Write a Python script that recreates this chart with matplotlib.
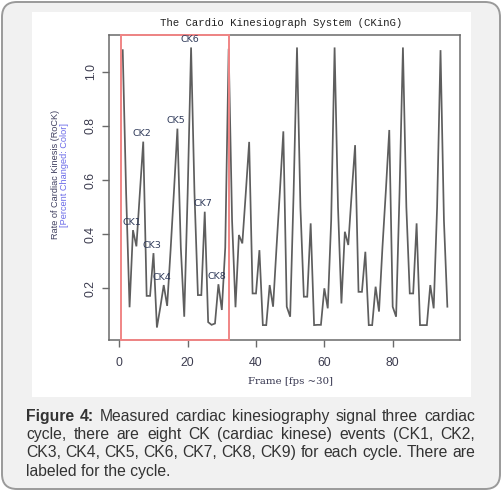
import numpy as np
import matplotlib
matplotlib.use("Agg")
import matplotlib.pyplot as plt
from matplotlib.patches import FancyBboxPatch, Rectangle

# ---------------- data ----------------
frames = list(range(1, 97))
rock = [
    # cycle 1
    1.08, 0.55, 0.13, 0.415, 0.355, 0.55, 0.742, 0.172, 0.172, 0.33,
    0.055, 0.13, 0.212, 0.135, 0.34, 0.56, 0.79, 0.35, 0.095, 0.55,
    1.09, 0.55, 0.175, 0.175, 0.483, 0.075, 0.065, 0.07, 0.215, 0.12,
    0.35,
    # cycle 2
    1.085, 0.45, 0.13, 0.397, 0.366, 0.55, 0.741, 0.181, 0.181, 0.341,
    0.064, 0.064, 0.212, 0.132, 0.35, 0.56, 0.78, 0.132, 0.095, 0.55,
    1.09, 0.5, 0.169, 0.169, 0.44, 0.064, 0.065, 0.065, 0.2, 0.126,
    0.45,
    # cycle 3
    1.09, 0.5, 0.144, 0.409, 0.36, 0.55, 0.729, 0.187, 0.187, 0.335,
    0.064, 0.064, 0.206, 0.114, 0.35, 0.56, 0.785, 0.132, 0.095, 0.55,
    1.09, 0.5, 0.181, 0.181, 0.44, 0.064, 0.064, 0.064, 0.212, 0.126,
    0.5, 1.08, 0.45, 0.132,
]
ck_names = ["CK1", "CK2", "CK3", "CK4", "CK5", "CK6", "CK7", "CK8"]
ck_frames = [4, 7, 10, 13, 17, 21, 25, 29]
highlight_cycle = (1, 32)
x_ticks = [0, 20, 40, 60, 80]
y_ticks = [0.2, 0.4, 0.6, 0.8, 1.0]

title = "The Cardio Kinesiograph System (CKinG)"
ylabel1 = "Rate of Cardiac Kinesis (RoCK)"
ylabel2 = "[Percent Changed: Color]"
xlabel = "Frame [fps ~30]"
caption_lines = [
    [("Figure", True), ("4:", True), ("Measured", False), ("cardiac", False),
     ("kinesiography", False), ("signal", False), ("three", False), ("cardiac", False)],
    [("cycle,", False), ("there", False), ("are", False), ("eight", False), ("CK", False),
     ("(cardiac", False), ("kinese)", False), ("events", False), ("(CK1,", False), ("CK2,", False)],
    [("CK3,", False), ("CK4,", False), ("CK5,", False), ("CK6,", False), ("CK7,", False),
     ("CK8,", False), ("CK9)", False), ("for", False), ("each", False), ("cycle.", False),
     ("There", False), ("are", False)],
]
caption_last = "labeled for the cycle."

# ---------------- figure ----------------
W, H = 502, 491
fig = plt.figure(figsize=(W / 100, H / 100), dpi=100)
fig.patch.set_facecolor("white")


def fx(px):
    return px / W


def fy(py):
    return 1 - py / H


outer = FancyBboxPatch((2 / 100, (H - 489) / 100), 498 / 100, 487 / 100,
                       boxstyle="round,pad=0,rounding_size=0.15",
                       transform=fig.dpi_scale_trans, facecolor="#f1f1f1",
                       edgecolor="#9a9a9a", linewidth=1.4, zorder=-3)
fig.add_artist(outer)
panel = Rectangle((fx(31.7), fy(396.7)), fx(470.7) - fx(31.7), fy(11.7) - fy(396.7),
                  transform=fig.transFigure, facecolor="white", edgecolor="none", zorder=-2)
fig.add_artist(panel)

ax = fig.add_axes([fx(109.3), fy(340), fx(460) - fx(109.3), fy(35) - fy(340)])
ax.set_facecolor("white")
ax.plot(frames, rock, color="#5e5e5e", lw=1.25, solid_joinstyle="miter")
ax.set_xlim(-2.93, 99.7)
ax.set_ylim(0.009, 1.136)

for sp in ax.spines.values():
    sp.set_color("#6a6a6a")
    sp.set_linewidth(1.1)

tick_font = dict(family="Liberation Sans", size=8.8)
ax.set_xticks(x_ticks)
ax.set_xticklabels([str(t) for t in x_ticks], color="#3d3d50", **tick_font)
ax.set_yticks(y_ticks)
ax.set_yticklabels([f"{t:.1f}" for t in y_ticks], color="#3d3d50", **tick_font)
ax.tick_params(axis="both", direction="out", length=5, width=1, color="#6a6a6a")
ax.tick_params(axis="x", pad=7)
ax.tick_params(axis="y", pad=4)
for lbl in ax.get_yticklabels():
    lbl.set_rotation(90)
    lbl.set_va("center")
    lbl.set_ha("right")

# highlight rectangle around first cycle
y0, y1 = ax.get_ylim()
x_a = frames[highlight_cycle[0] - 1] - 0.5
x_b = frames[highlight_cycle[1] - 1] + 0.1
rect = Rectangle((x_a, y0), x_b - x_a, y1 - y0, fill=False, edgecolor="#f08585",
                 linewidth=1.4, clip_on=False, zorder=3)
ax.add_patch(rect)

# CK labels
for name, f in zip(ck_names, ck_frames):
    ax.annotate(name, (frames[f - 1], rock[f - 1]), xytext=(-1.0, 2.5),
                textcoords="offset points", ha="center", va="bottom",
                fontsize=6.8, family="DejaVu Sans", color="#2f3a5a")

# titles / labels
fig.text(fx(281), fy(22.7), title, ha="center", va="center",
         family="Liberation Mono", fontsize=7.7, color="#222222")
fig.text(fx(56), fy(174), ylabel1, rotation=90, ha="center", va="center",
         family="Liberation Sans", fontsize=6.6, color="#404060")
fig.text(fx(65), fy(175), ylabel2, rotation=90, ha="center", va="center",
         family="Liberation Sans", fontsize=6.6, color="#6a6ae8")
fig.text(fx(290), fy(381.7), xlabel, ha="center", va="center",
         family="DejaVu Serif", fontsize=7.3, color="#33334d")

# caption (justified)
fig.canvas.draw()
renderer = fig.canvas.get_renderer()
left_px, right_px = 26, 475
baselines = [420.7, 439.1, 457.4, 475.8]
cap_kw = dict(family="Liberation Sans", fontsize=11.3, color="#333333", va="baseline", ha="left")
for i, line in enumerate(caption_lines):
    texts = [fig.text(0, 0, w, fontweight="bold" if b else "normal", **cap_kw) for w, b in line]
    widths = [t.get_window_extent(renderer).width for t in texts]
    gap = (right_px - left_px - sum(widths)) / (len(texts) - 1)
    x = left_px
    for t, w in zip(texts, widths):
        t.set_position((fx(x), fy(baselines[i])))
        x += w + gap
fig.text(fx(left_px), fy(baselines[3]), caption_last, **cap_kw)

fig.savefig("out.png", dpi=100)
